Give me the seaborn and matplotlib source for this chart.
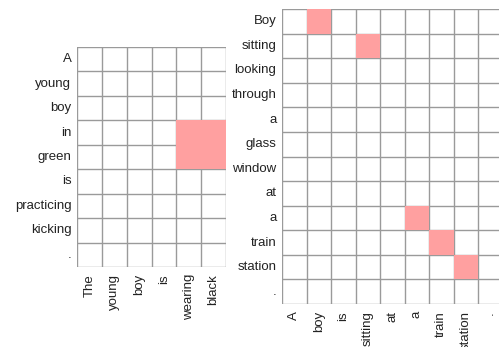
import numpy as np
import pandas as pd
import matplotlib
matplotlib.use("Agg")
import matplotlib.pyplot as plt
from matplotlib.colors import ListedColormap
import seaborn as sns

sns.set_style("white")
plt.rcParams["font.family"] = ["Liberation Sans", "DejaVu Sans"]

# Left alignment: hypothesis words (rows) vs premise words (columns)
left_rows = ["A", "young", "boy", "in", "green", "is", "practicing", "kicking", "."]
left_cols = ["The", "young", "boy", "is", "wearing", "black"]
left_links = [("in", "wearing"), ("in", "black"), ("green", "wearing"), ("green", "black")]

# Right alignment
right_rows = ["Boy", "sitting", "looking", "through", "a", "glass", "window",
              "at", "a", "train", "station", "."]
right_cols = ["A", "boy", "is", "sitting", "at", "a", "train", "station", "."]
right_links = [(0, 1), (1, 3), (8, 5), (9, 6), (10, 7)]  # (row index, col index)

PINK = "#FFA0A0"
GRID = "#9a9a9a"


def build_matrix(rows, cols, links, by_name):
    m = np.zeros((len(rows), len(cols)))
    for r, c in links:
        ri = rows.index(r) if by_name else r
        ci = cols.index(c) if by_name else c
        m[ri, ci] = 1
    return pd.DataFrame(m, index=range(len(rows)), columns=range(len(cols)))


def draw(ax, rows, cols, df):
    nr, nc = df.shape
    # white background cells
    sns.heatmap(df * 0, ax=ax, cmap=ListedColormap(["white"]), cbar=False,
                xticklabels=cols, yticklabels=rows)
    # cell borders
    for i in range(nr + 1):
        ax.axhline(i, color=GRID, lw=1.0, zorder=2)
    for j in range(nc + 1):
        ax.axvline(j, color=GRID, lw=1.0, zorder=2)
    # aligned word pairs drawn above the grid
    sns.heatmap(df, ax=ax, mask=(df.values == 0), cmap=ListedColormap([PINK]),
                vmin=0, vmax=1, cbar=False, xticklabels=cols, yticklabels=rows)
    ax.collections[-1].set_zorder(3)
    ax.set_xlim(0, nc)
    ax.set_ylim(nr, 0)
    ax.tick_params(axis="both", length=0, labelsize=9.5, colors="#222222")
    ax.tick_params(axis="y", pad=4, rotation=0)
    ax.tick_params(axis="x", pad=5, rotation=90)
    for lab in ax.get_xticklabels():
        lab.set_va("top")
    for s in ax.spines.values():
        s.set_visible(False)


fig = plt.figure(figsize=(4.99, 3.47), dpi=100)
W, H = 499, 347
ax1 = fig.add_axes([77 / W, 1 - 267 / H, 149 / W, 220 / H])
ax2 = fig.add_axes([282 / W, 1 - 304 / H, 220.5 / W, 295 / H])

draw(ax1, left_rows, left_cols, build_matrix(left_rows, left_cols, left_links, True))
draw(ax2, right_rows, right_cols, build_matrix(right_rows, right_cols, right_links, False))

fig.savefig("out.png", dpi=100, facecolor="white")
